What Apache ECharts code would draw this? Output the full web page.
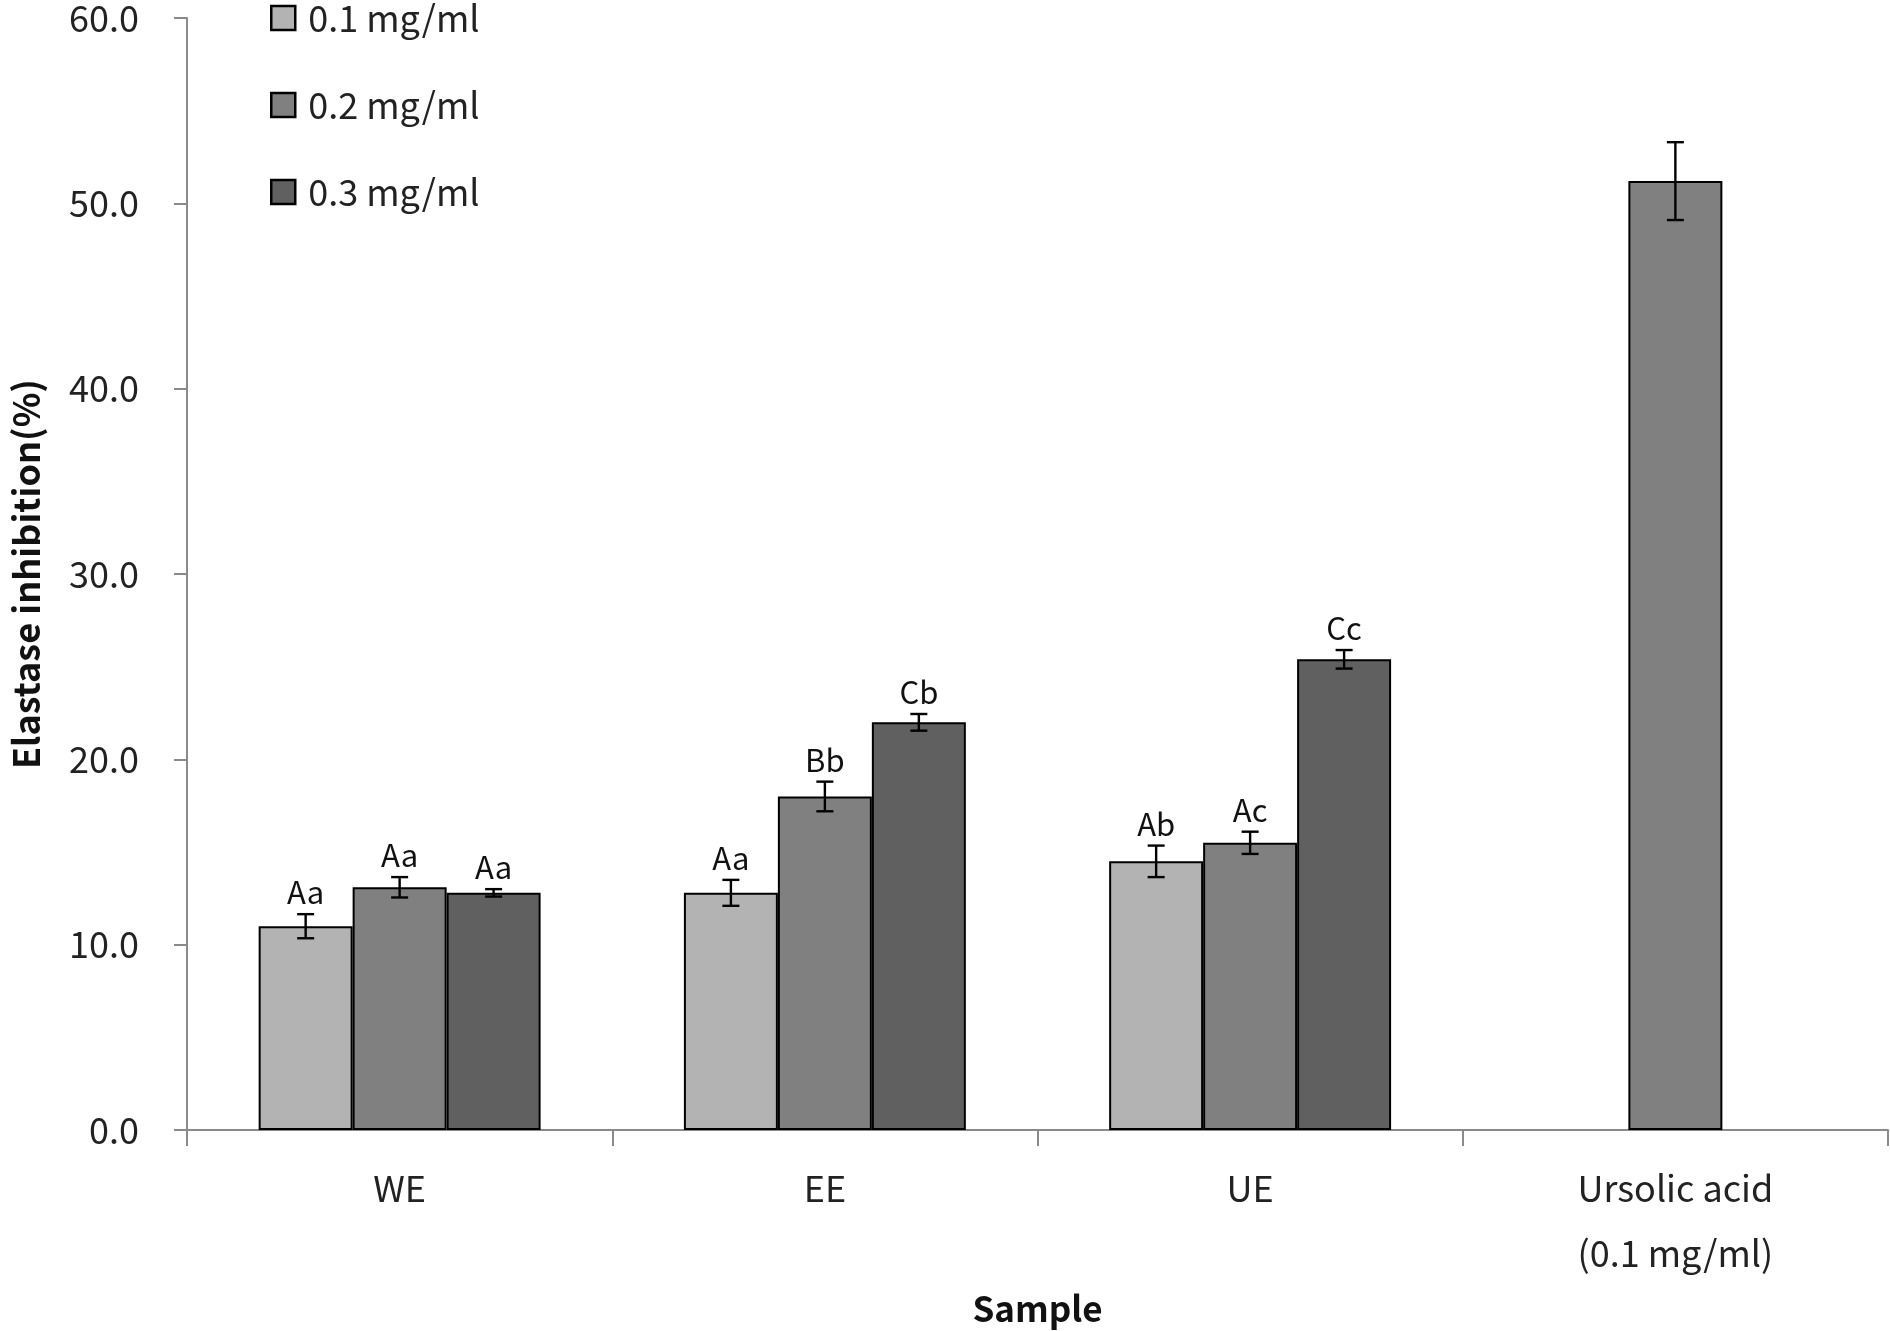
<!DOCTYPE html>
<html><head><meta charset="utf-8">
<script src="https://cdn.jsdelivr.net/npm/echarts@6/dist/echarts.min.js"></script>
<style>html,body{margin:0;padding:0;background:#fff}#c{width:1890px;height:1331px}</style>
</head><body><div id="c"></div>
<script>
const categories = ['WE', 'EE', 'UE', 'Ursolic acid\n(0.1 mg/ml)'];
const seriesNames = ['0.1 mg/ml', '0.2 mg/ml', '0.3 mg/ml'];
const v01 = [11.0, 12.8, 14.5, null];
const v02 = [13.1, 18.0, 15.5, null];
const v03 = [12.8, 22.0, 25.4, null];
const e01 = [0.65, 0.7, 0.85, null];
const e02 = [0.55, 0.8, 0.6, null];
const e03 = [0.2, 0.45, 0.5, null];
const l01 = ['Aa', 'Aa', 'Ab', null];
const l02 = ['Aa', 'Bb', 'Ac', null];
const l03 = ['Aa', 'Cb', 'Cc', null];
const ursolicValue = 51.2;
const ursolicErr = 2.1;
const yTicks = [0, 10, 20, 30, 40, 50, 60];

const colors = ['#b3b3b3', '#808080', '#606060'];
const GAP = 0.337;
const FONT = '"Noto Sans CJK KR", "Noto Sans", sans-serif';
const values = [v01, v02, v03];
const errs = [e01, e02, e03];
const labels = [l01, l02, l03];

function errSeries(k, vals, es, ls, offset, single) {
  const data = [];
  vals.forEach((v, i) => { if (v != null) data.push([i, v, es[i], ls[i] || '']); });
  return {
    type: 'custom', xAxisIndex: 0, yAxisIndex: 0, z: 10,
    data: data,
    encode: { x: 0, y: 1 },
    renderItem: function (params, api) {
      const ci = api.value(0), val = api.value(1), e = api.value(2);
      const lab = data[params.dataIndex][3];
      const catW = api.size([1, 0])[0];
      const bw = catW * (1 - GAP) / 3;
      const c = api.coord([ci, val]);
      const x = c[0] + (single ? 0 : offset * bw);
      const yt = api.coord([ci, val + e])[1];
      const yb = api.coord([ci, val - e])[1];
      const cap = 8.5;
      const st = { stroke: '#000', lineWidth: 2.4 };
      const children = [
        { type: 'line', shape: { x1: x, y1: yt, x2: x, y2: yb }, style: st },
        { type: 'line', shape: { x1: x - cap, y1: yt, x2: x + cap, y2: yt }, style: st },
        { type: 'line', shape: { x1: x - cap, y1: yb, x2: x + cap, y2: yb }, style: st }
      ];
      if (lab) {
        children.push({ type: 'text', style: { text: lab, x: x, y: yt - 6, align: 'center', verticalAlign: 'bottom', font: '31px ' + FONT, fill: '#111' } });
      }
      return { type: 'group', children: children };
    }
  };
}

const series = [];
seriesNames.forEach((n, k) => {
  series.push({
    name: n, type: 'bar', xAxisIndex: 0, barGap: '0%', barCategoryGap: (GAP * 100) + '%',
    data: values[k].map(v => v == null ? '-' : v),
    itemStyle: { color: colors[k], borderColor: '#000', borderWidth: 2 }
  });
});
series.push({
  name: 'Ursolic acid', type: 'bar', xAxisIndex: 1, barWidth: ((1 - GAP) / 3 * 100) + '%',
  data: categories.map((c, i) => i === 3 ? ursolicValue : '-'),
  itemStyle: { color: '#808080', borderColor: '#000', borderWidth: 2 }
});
seriesNames.forEach((n, k) => series.push(errSeries(k, values[k], errs[k], labels[k], k - 1, false)));
series.push(errSeries(3, [null, null, null, ursolicValue], [null, null, null, ursolicErr], [null, null, null, null], 0, true));

const chart = echarts.init(document.getElementById('c'), null, { renderer: 'canvas' });
chart.setOption({
  animation: false,
  backgroundColor: '#fff',
  textStyle: { fontFamily: FONT },
  grid: { left: 183, right: 2, top: 16, bottom: 184, containLabel: false },
  legend: {
    data: seriesNames, orient: 'vertical', left: 270, top: 0, padding: 0,
    itemWidth: 24, itemHeight: 24, itemGap: 51,
    icon: 'rect',
    itemStyle: { borderColor: '#000', borderWidth: 2.5 },
    textStyle: { fontSize: 36, color: '#222', fontFamily: FONT, padding: [0, 0, 0, 8] }
  },
  xAxis: [{
    type: 'category', data: categories, boundaryGap: true,
    name: 'Sample', nameLocation: 'middle', nameGap: 143,
    nameTextStyle: { fontSize: 35, fontWeight: 'bold', color: '#111', fontFamily: FONT },
    axisLine: { lineStyle: { color: '#8a8a8a', width: 2 } },
    axisTick: { show: true, length: 16, lineStyle: { color: '#8a8a8a', width: 2 } },
    axisLabel: { fontSize: 36, color: '#222', margin: 26, lineHeight: 65, fontFamily: FONT }
  }, {
    type: 'category', data: categories, show: false, boundaryGap: true
  }],
  yAxis: {
    type: 'value', min: 0, max: 60, interval: 10,
    name: 'Elastase inhibition(%)', nameLocation: 'middle', nameGap: 143,
    nameTextStyle: { fontSize: 36, fontWeight: 'bold', color: '#111', fontFamily: FONT },
    axisLine: { show: true, lineStyle: { color: '#8a8a8a', width: 2 } },
    axisTick: { show: true, length: 13, lineStyle: { color: '#8a8a8a', width: 2 } },
    splitLine: { show: false },
    axisLabel: { fontSize: 36, color: '#222', margin: 48, fontFamily: FONT, formatter: v => yTicks.includes(v) ? v.toFixed(1) : '' }
  },
  series: series
});
</script></body></html>
